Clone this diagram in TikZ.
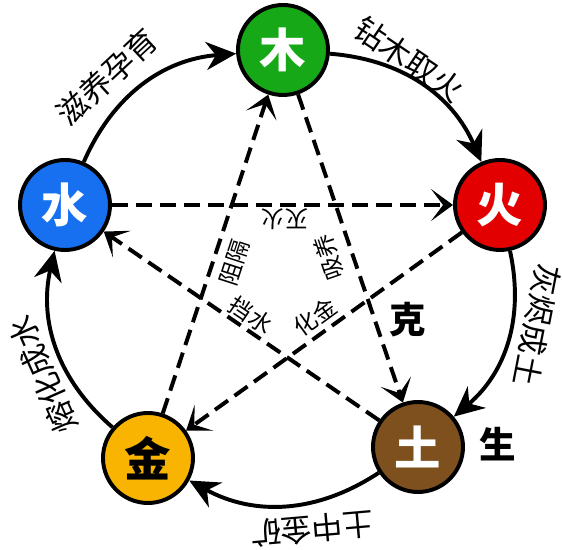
\documentclass[tikz,border=0pt]{standalone}
\usepackage{fontspec}
\setmainfont{Noto Sans CJK SC}
\usetikzlibrary{arrows.meta}

\definecolor{mugreen}{RGB}{22,168,22}
\definecolor{huored}{RGB}{226,0,0}
\definecolor{tubrown}{RGB}{125,80,30}
\definecolor{jingold}{RGB}{248,180,0}
\definecolor{shuiblue}{RGB}{22,112,240}

\begin{document}
\begin{tikzpicture}[x=1cm,y=1cm]
\tikzset{
  elemnode/.style={circle,draw=black,line width=2.8pt,minimum size=2.25cm,inner sep=0pt,font=\fontsize{33}{33}\selectfont\bfseries},
  shengedge/.style={draw=black,line width=2.8pt,-{Stealth[length=0.75cm,width=0.7cm]}},
  keedge/.style={draw=black,line width=2.8pt,dash pattern=on 0.4cm off 0.2cm,-{Stealth[length=0.55cm,width=0.8cm,inset=0.3cm]}},
  shenglabel/.style={inner sep=0pt,font=\fontsize{22}{22}\selectfont},
  kelabel/.style={inner sep=0pt,font=\fontsize{16.5}{16.5}\selectfont},
  mark label/.style={inner sep=0pt,font=\fontsize{26}{26}\selectfont\bfseries}
}
\useasboundingbox (-7.075,-6.875) rectangle (6.975,6.875);
\node[elemnode,fill=mugreen,text=white] (n_mu) at (0,5.625) {木};
\node[elemnode,fill=huored,text=white] (n_huo) at (5.425,1.75) {火};
\node[elemnode,fill=tubrown,text=white] (n_tu) at (3.375,-4.3) {土};
\node[elemnode,fill=jingold,text=black] (n_jin) at (-3.375,-4.575) {金};
\node[elemnode,fill=shuiblue,text=white] (n_shui) at (-5.45,1.75) {水};
\draw[shengedge] (n_mu) to[bend left=31] (n_huo);
\draw[shengedge] (n_huo) to[bend left=31] (n_tu);
\draw[shengedge] (n_tu) to[bend left=31] (n_jin);
\draw[shengedge] (n_jin) to[bend left=31] (n_shui);
\draw[shengedge] (n_shui) to[bend left=31] (n_mu);
\draw[keedge] (n_mu) -- (n_tu);
\draw[keedge] (n_tu) -- (n_shui);
\draw[keedge] (n_shui) -- (n_huo);
\draw[keedge] (n_huo) -- (n_jin);
\draw[keedge] (n_jin) -- (n_mu);
\node[shenglabel,rotate=-34] (l_zuanmu) at (3.15,5.4) {钻木取火};
\node[shenglabel,rotate=-101] (l_huijin) at (6.35,-1.25) {灰烬成土};
\node[shenglabel,rotate=185] (l_tuzhong) at (0.725,-6.35) {土中金矿};
\node[shenglabel,rotate=114] (l_ronghua) at (-6.0,-2.5) {熔化成水};
\node[shenglabel,rotate=43] (l_ziyang) at (-4.4,4.95) {滋养孕育};
\node[kelabel,rotate=180] (l_miehuo) at (0.05,1.4) {灭火};
\node[kelabel,rotate=109] (l_xiyang) at (1.15,0.45) {吸养};
\node[kelabel,rotate=72] (l_zuge) at (-1.2,0.3) {阻隔};
\node[kelabel,rotate=-34] (l_dangshui) at (-0.8,-1.0) {挡水};
\node[kelabel,rotate=36] (l_huajin) at (0.8,-1.05) {化金};
\node[mark label] (l_ke) at (3.125,-1.125) {克};
\node[mark label] (l_sheng) at (5.375,-4.225) {生};
\end{tikzpicture}
\end{document}
